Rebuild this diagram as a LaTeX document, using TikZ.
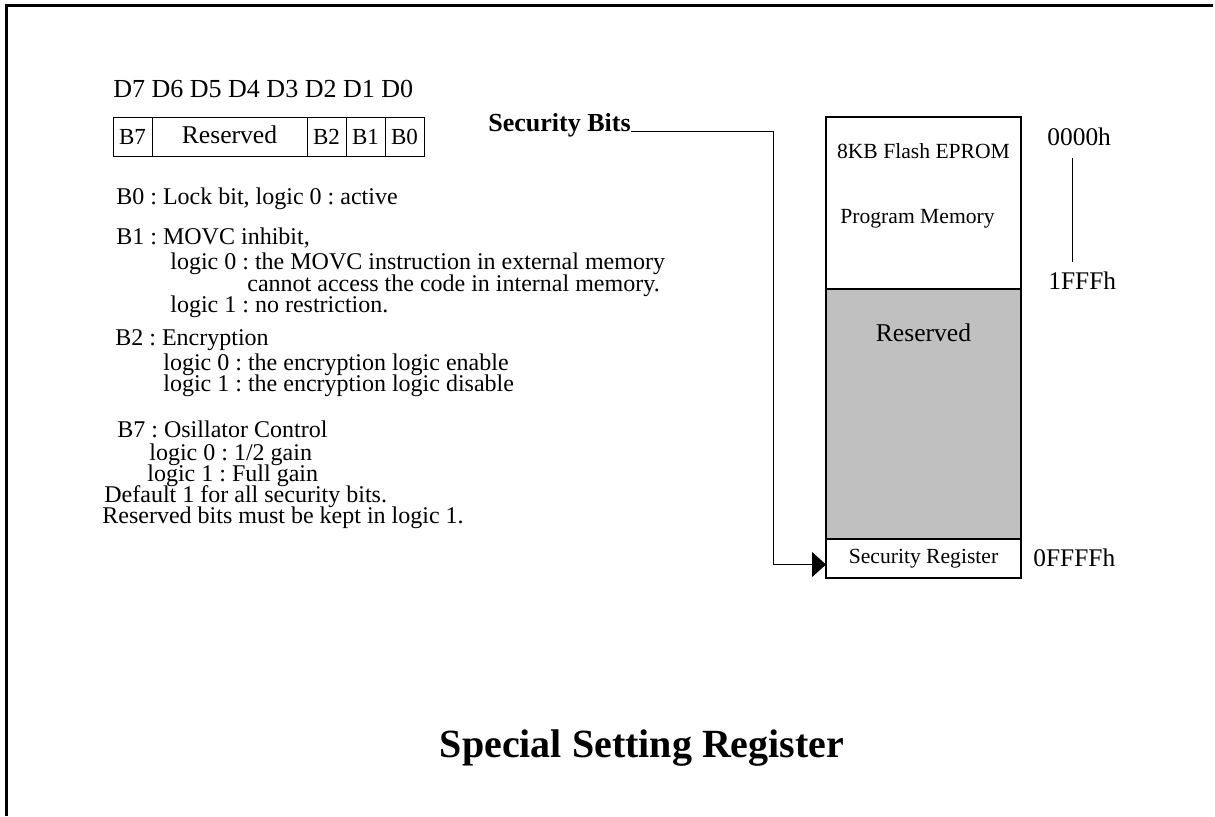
\documentclass[tikz,border=0pt]{standalone}
\usepackage{fontspec}
\setmainfont{Liberation Serif}
\frenchspacing
\usepackage{tikz}
\usetikzlibrary{positioning,arrows.meta}
\definecolor{resgray}{HTML}{C0C0C0}
\tikzstyle{txt} = [anchor = base west, inner sep = 0pt, font = \fontsize{12}{14}\selectfont]
\tikzstyle{cell} = [rectangle, draw = black, line width = 0.4pt, minimum height = 19.5pt, inner sep = 0pt, outer sep = 0pt, font = \fontsize{11.5}{13}\selectfont]
\tikzstyle{region} = [rectangle, draw = black, line width = 0.6pt, minimum width = 97.5pt, inner sep = 0pt, outer sep = 0pt]
\tikzstyle{memtxt} = [inner sep = 0pt, font = \fontsize{10.8}{12}\selectfont]
\tikzstyle{addr} = [anchor = base west, inner sep = 0pt, font = \fontsize{12.7}{14}\selectfont]
\tikzstyle{link} = [line width = 0.5pt, -{Triangle[length=7pt,width=12.5pt]}]

\begin{document}
\begin{tikzpicture}[x = 0.5pt, y = -0.5pt]

\useasboundingbox (0,0) rectangle (1215,816);
\draw [line width = 1.5pt] (6,816) -- (6,5.5) -- (1213,5.5);

\node(bits) [txt, font = \fontsize{13}{15}\selectfont] at (113,97) {D7 D6 D5 D4 D3 D2 D1 D0};
\node(b7) [cell, minimum width = 19.5pt, anchor = north west] at (113,117) {\raisebox{-1.5pt}{B7}};
\node(resv) [cell, minimum width = 77.5pt, right = 0pt of b7, font = \fontsize{12.8}{14}\selectfont] {\raisebox{1.5pt}{Reserved}};
\node(b2) [cell, minimum width = 19.5pt, right = 0pt of resv] {B2};
\node(b1) [cell, minimum width = 19.5pt, right = 0pt of b2] {B1};
\node(b0) [cell, minimum width = 19.5pt, right = 0pt of b1] {B0};

\node(lock) [txt] at (116,204) {B0 : Lock bit, logic 0 : active};
\node(movc) [txt] at (116,244) {B1 : MOVC inhibit,};
\node(movca) [txt] at (170,269) {logic 0 : the MOVC instruction in external memory};
\node(movcb) [txt] at (247,291) {cannot access the code in internal memory.};
\node(movcc) [txt] at (170,312) {logic 1 : no restriction.};
\node(encr) [txt] at (115,345) {B2 : Encryption};
\node(encra) [txt] at (163,370) {logic 0 : the encryption logic enable};
\node(encrb) [txt] at (163,391) {logic 1 : the encryption logic disable};
\node(osc) [txt] at (117,437) {B7 : Osillator Control};
\node(osca) [txt] at (149,460) {logic 0 : 1/2 gain};
\node(oscb) [txt] at (147,481) {logic 1 : Full gain};
\node(dflt) [txt] at (104,502) {Default 1 for all security bits.};
\node(keep) [txt] at (102,523) {Reserved bits must be kept in logic 1.};

\node(flash) [region, minimum height = 86pt, anchor = north west] at (826,117) {};
\node(gap) [region, minimum height = 125pt, fill = resgray, below = 0pt of flash] {};
\node(secreg) [region, minimum height = 19.5pt, below = 0pt of gap, memtxt] {Security Register};
\node(eprom) [memtxt, below = 13pt of flash.north] {8KB Flash EPROM};
\node(prog) [memtxt, below = 46pt of flash.north, xshift = -3pt] {Program Memory};
\node(restxt) [memtxt, font = \fontsize{12.8}{14}\selectfont, below = 17pt of gap.north] {Reserved};

\node(a0) [addr] at (1047,145) {0000h};
\node(a1) [addr] at (1048,289) {1FFFh};
\node(a2) [addr] at (1033,566) {0FFFFh};
\draw [line width = 0.5pt, shorten <= 6pt, shorten >= 4.5pt] ([xshift = -3.5pt]a0.south) -- ([xshift = -3.5pt]a0.south |- a1.north);

\node(secbits) [txt, font = \bfseries\fontsize{13}{15}\selectfont] at (488,131) {Security Bits};
\coordinate(elbow) at (773,130);
\draw [link] (secbits.base east) -- (secbits.base east -| elbow) |- ([yshift = -3pt]secreg.west);

\node(title) [anchor = base, inner sep = 0pt, font = \bfseries\fontsize{20}{24}\selectfont] at (642,757) {Special Setting Register};

\end{tikzpicture}
\end{document}
